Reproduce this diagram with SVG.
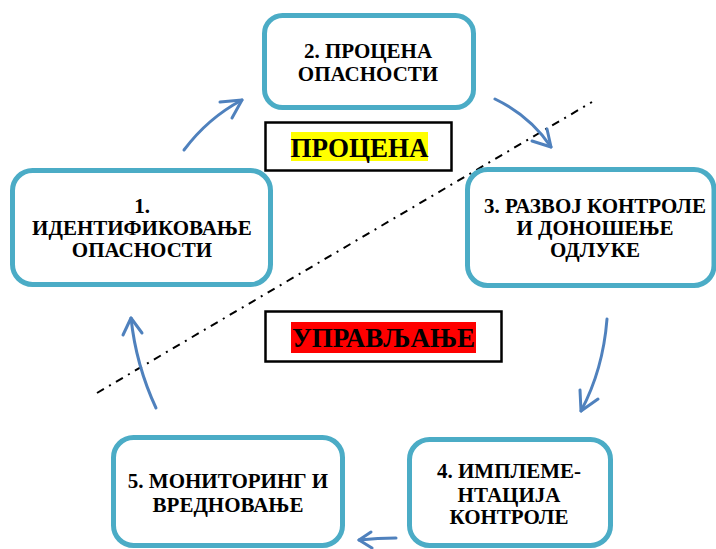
<svg xmlns="http://www.w3.org/2000/svg" width="716" height="549" viewBox="0 0 716 549">
<style>
.box{fill:#fff;stroke:#4BACC6;stroke-width:5}
.t{font-family:'Liberation Serif','Times New Roman',serif;font-weight:700;font-size:21px;fill:#000;text-anchor:middle}
.big{font-family:'Liberation Serif','Times New Roman',serif;font-weight:700;font-size:27px;fill:#000;text-anchor:middle}
.lbl{fill:#fff;stroke:#000;stroke-width:2.5}
.arr{fill:none;stroke:#4F81BD;stroke-width:3;stroke-linecap:round;stroke-linejoin:round}
</style>
<rect width="716" height="549" fill="#fff"/>
<g id="divider">
<path d="M97,393 L592,102" fill="none" stroke="#000" stroke-width="2" stroke-dasharray="8 6 2 6"/>
</g>
<g id="node1">
<rect class="box" x="12.5" y="170.5" width="258" height="114" rx="20"/>
<text class="t" x="142" y="213">1.</text>
<text class="t" x="142" y="235">ИДЕНТИФИКОВАЊЕ</text>
<text class="t" x="142" y="257">ОПАСНОСТИ</text>
</g>
<g id="node2">
<rect class="box" x="264.5" y="15.5" width="209" height="92" rx="18"/>
<text class="t" x="368" y="58">2. ПРОЦЕНА</text>
<text class="t" x="368" y="81">ОПАСНОСТИ</text>
</g>
<g id="node3">
<rect class="box" x="467.5" y="169.5" width="246.5" height="116" rx="20"/>
<text class="t" x="595" y="213">3. РАЗВОЈ КОНТРОЛЕ</text>
<text class="t" x="595" y="235">И ДОНОШЕЊЕ</text>
<text class="t" x="595" y="257">ОДЛУКЕ</text>
</g>
<g id="node4">
<rect class="box" x="409.5" y="439.5" width="201" height="106" rx="20"/>
<text class="t" x="509" y="478">4. ИМПЛЕМЕ-</text>
<text class="t" x="509" y="502">НТАЦИЈА</text>
<text class="t" x="509" y="524">КОНТРОЛЕ</text>
</g>
<g id="node5">
<rect class="box" x="113.5" y="437.5" width="229" height="108" rx="20"/>
<text class="t" x="228" y="488">5. МОНИТОРИНГ И</text>
<text class="t" x="228" y="512">ВРЕДНОВАЊЕ</text>
</g>
<g id="label-procena">
<rect class="lbl" x="265.5" y="122.5" width="186" height="48"/>
<rect x="291" y="132" width="137" height="29" fill="#FFFF00"/>
<text class="big" x="359.5" y="157">ПРОЦЕНА</text>
</g>
<g id="label-upravljanje">
<rect class="lbl" x="265.5" y="311.5" width="236" height="50"/>
<rect x="291" y="322" width="185" height="31" fill="#FF0000"/>
<text class="big" x="383.5" y="347">УПРАВЉАЊЕ</text>
</g>
<g id="connectors">
<path class="arr" d="M184,150 Q208,118 242,100"/>
<path class="arr" d="M220,102 L242,100 L232,118"/>
<path class="arr" d="M495,99 Q530,116 551,147"/>
<path class="arr" d="M532,141 L551,147 L547,129"/>
<path class="arr" d="M607,319 Q603,370 581,411"/>
<path class="arr" d="M580,390 L581,411 L598,399"/>
<path class="arr" d="M396,538 Q378,538 359,540"/>
<path class="arr" d="M371,532 L359,540 L372,548"/>
<path class="arr" d="M156,408 Q136,365 131,318"/>
<path class="arr" d="M123,335 L131,318 L142,333"/>
</g>
</svg>
